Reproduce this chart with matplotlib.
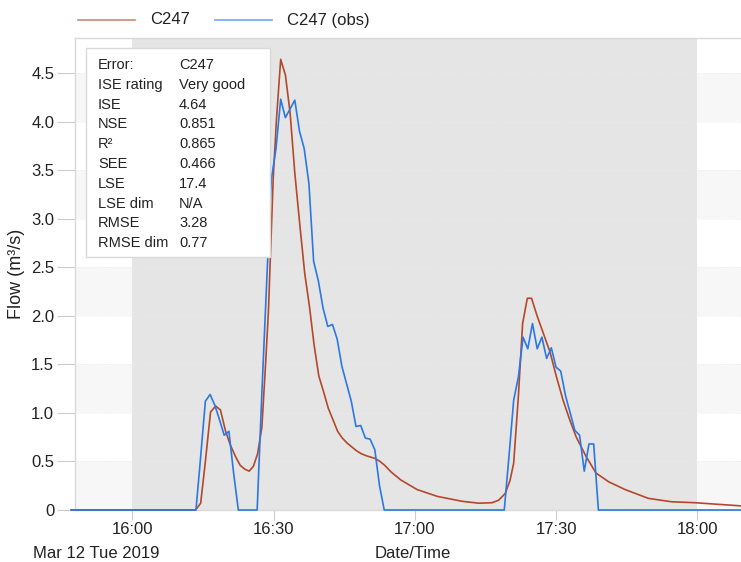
import numpy as np
import pandas as pd
import matplotlib
matplotlib.use("Agg")
import matplotlib.pyplot as plt
import matplotlib.dates as mdates
from matplotlib.lines import Line2D
from matplotlib.patches import Rectangle

plt.rcParams["font.family"] = ["Liberation Sans", "DejaVu Sans"]

# ── 数据 (minutes after 16:00) ──
START = pd.Timestamp("2019-03-12 16:00")

model_min = [-13, 13.4, 14.5, 15.5, 16.6, 17.7, 18.7, 19.8, 20.8, 21.9, 22.9,
             23.9, 24.8, 25.7, 26.6, 27.5, 28.3, 28.9, 29.9, 30.6, 31.5, 32.5,
             33.5, 34.5, 35.6, 36.6, 37.6, 38.6, 39.6, 40.6, 41.6, 42.6, 43.6,
             44.6, 45.6, 46.6, 47.6, 48.6, 49.6, 50.6, 51.6, 52.6, 53.6, 55,
             57, 60.5, 64.8, 70, 73.6, 76.4, 77.8, 79.2, 80.2, 81.0, 82.0,
             82.9, 83.9, 84.8, 85.9, 87.3, 88.7, 90.1, 91.5, 92.9, 94.3, 96.4,
             98.5, 101.2, 104.7, 109.6, 114.5, 119.5, 130]
model_flow = [0, 0, 0.07, 0.5, 1.01, 1.07, 1.03, 0.81, 0.67, 0.55, 0.46,
              0.42, 0.40, 0.45, 0.58, 0.85, 1.51, 2.05, 3.40, 4.02, 4.64, 4.48,
              4.09, 3.47, 2.92, 2.44, 2.10, 1.70, 1.38, 1.22, 1.05, 0.93, 0.81,
              0.74, 0.69, 0.65, 0.61, 0.58, 0.56, 0.545, 0.53, 0.50, 0.46, 0.39,
              0.31, 0.21, 0.14, 0.09, 0.07, 0.075, 0.10, 0.17, 0.30, 0.48, 1.17,
              1.92, 2.18, 2.18, 2.01, 1.82, 1.63, 1.37, 1.13, 0.93, 0.75, 0.55,
              0.38, 0.29, 0.21, 0.12, 0.085, 0.075, 0.04]

# observed events, 1-minute samples
obs1_start = 13.5
obs1_flow = [0, 0.55, 1.12, 1.19, 1.08, 0.93, 0.77, 0.81, 0.38, 0]
obs2_start = 26.5
obs2_flow = [0, 1.2, 2.32, 3.40, 3.72, 4.23, 4.04, 4.13, 4.22, 3.90, 3.72,
             3.36, 2.56, 2.36, 2.08, 1.89, 1.91, 1.76, 1.48, 1.30, 1.12, 0.86,
             0.87, 0.74, 0.73, 0.62, 0.25, 0]
obs3_start = 79.0
obs3_flow = [0, 0.55, 1.13, 1.37, 1.78, 1.66, 1.92, 1.66, 1.78, 1.56, 1.67,
             1.47, 1.43, 1.18, 1.00, 0.82, 0.77, 0.40, 0.68, 0.68, 0]

y_ticks = [0, 0.5, 1.0, 1.5, 2.0, 2.5, 3.0, 3.5, 4.0, 4.5]
y_labels = ["0", "0.5", "1.0", "1.5", "2.0", "2.5", "3.0", "3.5", "4.0", "4.5"]

stats_names = ["Error:", "ISE rating", "ISE", "NSE", "R²", "SEE", "LSE",
               "LSE dim", "RMSE", "RMSE dim"]
stats_values = ["C247", "Very good", "4.64", "0.851", "0.865", "0.466",
                "17.4", "N/A", "3.28", "0.77"]

RED = "#b3482b"
BLUE = "#2b78e4"
TXT = "#222222"


def to_time(minutes):
    return START + pd.to_timedelta(np.asarray(minutes, dtype=float), unit="m")


# 拼接观测序列
obs_min, obs_flow = [-13.0], [0.0]
for s, vals in [(obs1_start, obs1_flow), (obs2_start, obs2_flow), (obs3_start, obs3_flow)]:
    obs_min += [s + i for i in range(len(vals))]
    obs_flow += vals
obs_min.append(130.0)
obs_flow.append(0.0)

fig = plt.figure(figsize=(7.41, 5.62), dpi=100)
ax = fig.add_axes([75 / 741, 52 / 562, 666 / 741, 472 / 562])

# ── 背景 ──
for lo in [0, 1, 2, 3, 4]:
    ax.axhspan(lo, lo + 0.5, color="#f7f7f7", zorder=0, lw=0)
ax.axvspan(to_time(0), to_time(120), color="#e5e5e5", zorder=0.5, lw=0)
for yv in y_ticks[1:]:
    ax.axhline(yv, color="#ececec", lw=0.6, ls=":", zorder=0.6)

ax.plot(to_time(model_min), model_flow, color=RED, lw=1.2, zorder=3, clip_on=False)
ax.plot(to_time(obs_min), obs_flow, color=BLUE, lw=1.2, zorder=3, clip_on=False)

ax.set_xlim(to_time(-12.2), to_time(129.3))
ax.set_ylim(0, 4.86)

ax.xaxis.set_major_locator(mdates.MinuteLocator(byminute=[0, 30]))
ax.xaxis.set_major_formatter(mdates.DateFormatter("%H:%M"))
ax.set_yticks(y_ticks)
ax.set_yticklabels(y_labels)
ax.tick_params(axis="both", colors="#cccccc", labelcolor=TXT, labelsize=12)
ax.tick_params(axis="y", length=13, width=0.8, pad=2)
ax.tick_params(axis="x", length=7, width=0.8, pad=2)

for side in ["top", "left", "bottom"]:
    ax.spines[side].set_color("#d9d9d9")
    ax.spines[side].set_linewidth(1.0)
ax.spines["right"].set_visible(False)

ax.set_ylabel("Flow (m³/s)", fontsize=13, color=TXT, labelpad=4)
fig.text(413 / 741, 1 - 553 / 562, "Date/Time", fontsize=12, color=TXT,
         ha="center", va="center")
fig.text(33 / 741, 1 - 553 / 562, "Mar 12 Tue 2019", fontsize=12, color=TXT,
         ha="left", va="center")

# ── 统计框 ──
box = Rectangle((11 / 666, (510 - 257) / 472), 184 / 666, 209 / 472,
                transform=ax.transAxes, facecolor="white", edgecolor="#d9d9d9",
                lw=1.0, zorder=5)
ax.add_patch(box)
for i, (name, val) in enumerate(zip(stats_names, stats_values)):
    yy = (510 - 65 - i * 19.8) / 472
    ax.text(23 / 666, yy, name, transform=ax.transAxes, fontsize=10.5,
            color=TXT, va="center", ha="left", zorder=6)
    ax.text(104 / 666, yy, val, transform=ax.transAxes, fontsize=10.5,
            color=TXT, va="center", ha="left", zorder=6)

# ── 图例 (手动) ──
ly = 1 - 20 / 562
fig.add_artist(Line2D([78 / 741, 135 / 741], [ly, ly], color=RED, lw=1.2, alpha=0.65))
fig.text(150 / 741, ly, "C247", fontsize=12, color=TXT, ha="left", va="center")
fig.add_artist(Line2D([215 / 741, 272 / 741], [ly, ly], color=BLUE, lw=1.2, alpha=0.65))
fig.text(287 / 741, ly, "C247 (obs)", fontsize=12, color=TXT, ha="left", va="center")

fig.savefig("out.png", dpi=100)
plt.close(fig)
